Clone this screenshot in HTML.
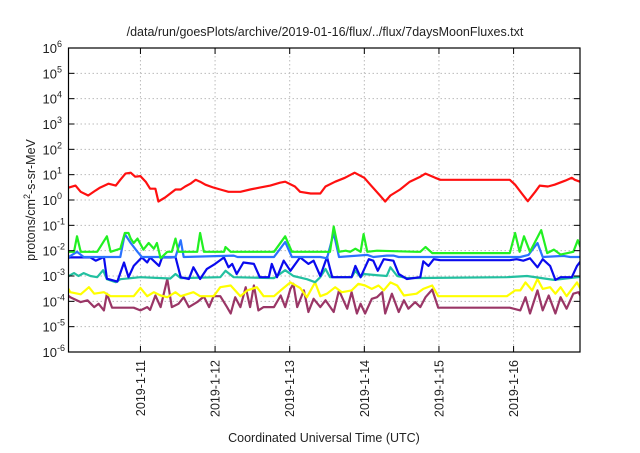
<!DOCTYPE html>
<html><head><meta charset="utf-8"><style>
body{margin:0;background:#fff;}
svg text{font-family:"Liberation Sans",sans-serif;fill:#222;}
</style></head><body>
<svg id="chart" width="640" height="448" viewBox="0 0 640 448" xmlns="http://www.w3.org/2000/svg">
<text x="325" y="36" font-size="12.5" text-anchor="middle">/data/run/goesPlots/archive/2019-01-16/flux/../flux/7daysMoonFluxes.txt</text>
<text x="324" y="442" font-size="12.5" text-anchor="middle">Coordinated Universal Time (UTC)</text>
<text transform="translate(35,200) rotate(-90)" font-size="12.5" text-anchor="middle">protons/cm<tspan font-size="9" dy="-5">2</tspan><tspan dy="5">-s-sr-MeV</tspan></text>
<g id="grid"></g>
<g id="series"></g>
<g id="axes"></g>
</svg>
<script>
const xTickLabels=["2019-1-11","2019-1-12","2019-1-13","2019-1-14","2019-1-15","2019-1-16"];
const xTickDays=[1,2,3,4,5,6];
const yTickExps=[-6,-5,-4,-3,-2,-1,0,1,2,3,4,5,6];
const xDomain=[0.036,6.89];
const red=[[.04,3.1],[.13,3.7],[.2,2.1],[.3,1.5],[.4,2.4],[.46,3.1],[.57,4.4],[.67,3.7],[.73,6.3],[.8,11],[.87,12],[.93,8.3],[1.0,8.8],[1.07,5.3],[1.13,2.8],[1.2,2.8],[1.24,0.87],[1.33,1.25],[1.4,1.8],[1.47,2.6],[1.54,2.6],[1.6,3.4],[1.67,4.4],[1.74,6.3],[1.8,5.3],[1.87,4.0],[1.98,3.1],[2.07,2.6],[2.18,2.1],[2.34,2.1],[2.47,2.6],[2.6,3.1],[2.74,3.7],[2.87,4.8],[2.94,5.3],[3.07,3.4],[3.14,2.1],[3.28,1.8],[3.41,1.8],[3.48,3.4],[3.61,5.3],[3.74,7.5],[3.87,12],[4.0,7.5],[4.08,4.0],[4.21,1.5],[4.28,0.87],[4.35,1.5],[4.48,2.6],[4.61,5.3],[4.75,8.3],[4.82,11],[4.95,7.5],[5.02,6.3],[5.95,6.3],[6.02,4.0],[6.11,1.8],[6.19,0.9],[6.29,2.1],[6.35,3.7],[6.46,3.4],[6.55,4.0],[6.69,5.8],[6.78,7.5],[6.82,6.3],[6.89,5.3]];
const green=[[.04,.009],[.11,.009],[.15,.037],[.2,.009],[.42,.009],[.55,.037],[.6,.009],[.73,.012],[.79,.05],[.84,.05],[.87,.03],[.91,.02],[.96,.03],[1.04,.011],[1.11,.02],[1.18,.012],[1.22,.02],[1.27,.005],[1.36,.009],[1.42,.009],[1.47,.03],[1.51,.009],[1.76,.009],[1.8,.05],[1.85,.009],[2.12,.009],[2.14,.014],[2.21,.009],[2.79,.009],[2.94,.037],[3.03,.009],[3.41,.009],[3.54,.009],[3.59,.09],[3.66,.009],[3.75,.01],[3.81,.009],[3.88,.012],[3.95,.009],[3.99,.045],[4.04,.009],[4.17,.01],[4.7,.009],[4.75,.009],[4.82,.014],[4.91,.008],[5.95,.008],[6.02,.05],[6.08,.009],[6.14,.037],[6.22,.009],[6.37,.065],[6.45,.008],[6.54,.011],[6.63,.007],[6.8,.009],[6.86,.026],[6.92,.009]];
const lightBlue=[[.04,.0056],[.15,.009],[.24,.0056],[.73,.0056],[.79,.045],[.87,.02],[.96,.009],[1.02,.0056],[1.47,.0056],[1.54,.026],[1.58,.0056],[2.25,.0064],[2.3,.0056],[2.79,.0056],[2.94,.022],[3.03,.0056],[3.41,.0056],[3.5,.005],[3.59,.05],[3.66,.0056],[4.04,.0068],[4.12,.0056],[4.3,.0064],[4.39,.0064],[4.46,.0056],[6.09,.0056],[6.2,.0068],[6.32,.02],[6.39,.0056],[6.67,.0062],[6.76,.0056],[6.92,.0056]];
const darkBlue=[[-.07,.0047],[.06,.0054],[.33,.0054],[.4,.004],[.51,.0056],[.55,.00078],[.69,.0006],[.78,.0034],[.84,.0009],[.91,.0025],[1.02,.0054],[1.09,.0034],[1.13,.0054],[1.25,.0025],[1.29,.0054],[1.4,.0054],[1.47,.0056],[1.54,.0009],[1.65,.00076],[1.71,.0022],[1.8,.00076],[1.89,.0019],[2.0,.003],[2.12,.0054],[2.18,.0022],[2.23,.003],[2.29,.0012],[2.38,.0034],[2.52,.003],[2.6,.0009],[2.72,.0009],[2.76,.003],[2.83,.0009],[2.92,.004],[3.01,.0016],[3.14,.0054],[3.25,.003],[3.32,.004],[3.41,.001],[3.5,.0056],[3.57,.0009],[3.83,.0009],[3.88,.0025],[3.95,.0009],[4.06,.0046],[4.12,.004],[4.18,.0016],[4.26,.0046],[4.39,.004],[4.46,.0012],[4.57,.00076],[4.75,.0009],[4.79,.0038],[4.86,.0025],[4.93,.0046],[5.02,.0042],[5.95,.0042],[6.04,.0046],[6.13,.004],[6.22,.005],[6.32,.0022],[6.39,.0046],[6.49,.0025],[6.56,.0007],[6.63,.0009],[6.78,.0009],[6.85,.0025],[6.92,.0046]];
const teal=[[-.07,.0009],[.04,.001],[.11,.0013],[.17,.001],[.24,.0013],[.33,.001],[.42,.0009],[.5,.0017],[.55,.00075],[.67,.00057],[.73,.00075],[1.0,.0009],[1.4,.0008],[1.47,.0012],[1.54,.00083],[2.07,.0009],[2.14,.0016],[2.25,.0009],[2.79,.00083],[2.94,.0017],[3.05,.001],[3.23,.00075],[3.34,.00057],[3.41,.0009],[3.48,.0019],[3.54,.0009],[3.83,.0009],[3.88,.0016],[3.95,.0009],[3.99,.0012],[4.3,.001],[4.35,.0022],[4.44,.001],[4.57,.00083],[5.91,.0009],[6.18,.001],[6.54,.0007],[6.92,.00095]];
const yellow=[[-.07,4.2e-4],[-.03,6.6e-4],[.06,2.3e-4],[.2,1.9e-4],[.31,3.6e-4],[.38,2e-4],[.51,2.3e-4],[.6,1.6e-4],[.91,1.6e-4],[1.0,3.4e-4],[1.09,1.6e-4],[1.18,2.3e-4],[1.27,1.7e-4],[1.36,1.45e-4],[1.47,2.3e-4],[1.54,1.6e-4],[1.71,2.3e-4],[1.8,1.6e-4],[1.98,1.6e-4],[2.07,3.6e-4],[2.21,4.2e-4],[2.34,1.6e-4],[2.43,2.7e-4],[2.56,3.6e-4],[2.65,1.6e-4],[2.79,1.6e-4],[2.88,2.7e-4],[3.01,5.6e-4],[3.14,3.4e-4],[3.23,1.45e-4],[3.34,5.6e-4],[3.41,1.6e-4],[3.5,2e-4],[3.61,3.6e-4],[3.7,2.3e-4],[3.83,2.7e-4],[3.92,4.9e-4],[4.01,4.2e-4],[4.1,3.1e-4],[4.19,4.2e-4],[4.26,2.7e-4],[4.35,5.6e-4],[4.44,4.2e-4],[4.53,1.7e-4],[4.7,2e-4],[4.79,3.1e-4],[4.91,4.2e-4],[4.99,1.6e-4],[5.91,1.6e-4],[6.02,2.7e-4],[6.09,2.7e-4],[6.16,5.6e-4],[6.25,2.7e-4],[6.32,7.6e-4],[6.39,3.1e-4],[6.49,3.6e-4],[6.56,2e-4],[6.63,3.6e-4],[6.71,1.6e-4],[6.85,5.6e-4],[6.92,2.3e-4]];
const purple=[[-.07,2.7e-4],[.06,1.45e-4],[.2,9.3e-5],[.29,1.1e-4],[.38,5.9e-5],[.44,8e-5],[.51,4.4e-5],[.55,2e-4],[.62,5.6e-5],[.91,5.6e-5],[1.0,4.4e-5],[1.09,5.9e-5],[1.13,4.6e-5],[1.2,1.7e-4],[1.27,5.9e-5],[1.36,7.6e-4],[1.42,5.9e-5],[1.51,8e-5],[1.58,1.45e-4],[1.65,5.9e-5],[1.76,9.3e-5],[1.85,1.55e-4],[1.92,5.9e-5],[1.98,1.6e-4],[2.07,1.6e-4],[2.16,5.9e-5],[2.21,3.3e-5],[2.27,1.45e-4],[2.34,5.9e-5],[2.41,3.6e-4],[2.47,5.9e-5],[2.52,4.2e-4],[2.58,4.4e-5],[2.65,5.9e-5],[2.79,5.9e-5],[2.88,1.7e-4],[2.94,5.9e-5],[3.01,3.1e-4],[3.05,4.9e-4],[3.1,5.9e-5],[3.19,2.7e-4],[3.25,3.8e-5],[3.32,1.26e-4],[3.41,5.9e-5],[3.48,1.1e-4],[3.59,3.8e-5],[3.66,2.7e-4],[3.77,5.1e-5],[3.83,2.3e-4],[3.9,3.3e-5],[3.95,8e-5],[4.01,3.3e-5],[4.1,1.26e-4],[4.17,1.45e-4],[4.24,2.3e-4],[4.28,3.3e-5],[4.37,2e-4],[4.46,3.8e-5],[4.53,1.1e-4],[4.59,5.1e-5],[4.68,9.3e-5],[4.75,5.9e-5],[4.82,1.45e-4],[4.91,2.9e-4],[4.99,5.6e-5],[5.95,5.6e-5],[6.09,4.4e-5],[6.16,1.45e-4],[6.22,3.3e-5],[6.32,2.7e-4],[6.39,4.4e-5],[6.47,1.7e-4],[6.56,3.3e-5],[6.63,1.45e-4],[6.71,5.1e-5],[6.8,2e-4],[6.87,2.3e-4],[6.92,1.26e-4]];

const NS="http://www.w3.org/2000/svg";
const L=68.5,R=580,T=48,B=352;
function xS(d){return L+(d-xDomain[0])/(xDomain[1]-xDomain[0])*(R-L);}
function yS(v){return B-(Math.log10(v)+6)/12*(B-T);}
function mk(tag,attrs,parent){const e=document.createElementNS(NS,tag);for(const k in attrs)e.setAttribute(k,attrs[k]);parent.appendChild(e);return e;}
const grid=document.getElementById('grid'),axes=document.getElementById('axes'),ser=document.getElementById('series');
const svg=document.getElementById('chart');
const clip=mk('clipPath',{id:'pc'},svg);mk('rect',{x:L,y:T,width:R-L,height:B-T},clip);
yTickExps.forEach(e=>{
  const y=yS(Math.pow(10,e));
  if(e>-6&&e<6){const g=mk('line',{x1:L,x2:R,y1:y,y2:y,stroke:'#bbb','stroke-dasharray':'1.5,2.5','stroke-width':1},grid);
  
  }
  const t=mk('line',{x1:L,x2:L+6,y1:y,y2:y,stroke:'#000'},axes);
  
  
  const t2=mk('line',{x1:R,x2:R-6,y1:y,y2:y,stroke:'#000'},axes);
  
  
  const tx=mk('text',{x:57,y:y+5,'font-size':13,'text-anchor':'end'},axes);
  
  
  tx.textContent='10';
  const sp=mk('tspan',{x:57,y:y-1,'font-size':9,'text-anchor':'start'},tx);
  sp.textContent=String(e);
});
xTickDays.forEach((d,i)=>{
  const x=xS(d);
  const g=mk('line',{x1:x,x2:x,y1:T,y2:B,stroke:'#bbb','stroke-dasharray':'1.5,2.5'},grid);
  
  
  const t=mk('line',{x1:x,x2:x,y1:B,y2:B-6,stroke:'#000'},axes);
  
  
  const t2=mk('line',{x1:x,x2:x,y1:T,y2:T+6,stroke:'#000'},axes);
  
  
  const tx=mk('text',{transform:`translate(${x+4.5},360) rotate(-90)`,'font-size':12.5,'text-anchor':'end'},axes);
  
  
  tx.textContent=xTickLabels[i];
});
const fr=mk('rect',{x:L,y:T,width:R-L,height:B-T,fill:'none',stroke:'#000','stroke-width':1.2},axes);


const seriesList=[[purple,'#9a3666','series-purple'],[yellow,'#ffff00','series-yellow'],[teal,'#22c0a0','series-teal'],[darkBlue,'#0a0aee','series-dark-blue'],[lightBlue,'#2a72ff','series-light-blue'],[green,'#22f022','series-green'],[red,'#ff1010','series-red']];
seriesList.forEach(([data,col,name])=>{
  const p=mk('polyline',{points:data.map(p=>xS(p[0]).toFixed(1)+','+yS(p[1]).toFixed(1)).join(' '),fill:'none',stroke:col,'stroke-width':2.2,'stroke-linejoin':'round','clip-path':'url(#pc)'},ser);
  
  
});
</script>
</body></html>
